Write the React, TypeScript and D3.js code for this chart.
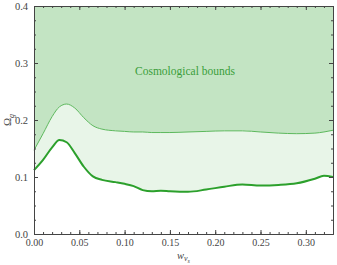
import React, { useEffect, useRef } from 'react';
import * as d3 from 'd3';

// w_{nu_s} sample points
const wValues = [0, 0.01, 0.02, 0.028, 0.036, 0.045, 0.055, 0.065, 0.075, 0.09, 0.1, 0.11, 0.12, 0.13, 0.14, 0.15, 0.17, 0.19, 0.21, 0.23, 0.25, 0.27, 0.29, 0.31, 0.32, 0.33];
// upper (cosmological bound) curve
const upperValues = [0.147, 0.176, 0.206, 0.223, 0.228, 0.221, 0.204, 0.19, 0.184, 0.181, 0.18, 0.179, 0.179, 0.178, 0.178, 0.178, 0.179, 0.18, 0.181, 0.181, 0.179, 0.177, 0.176, 0.177, 0.179, 0.182];
// lower curve
const lowerValues = [0.112, 0.13, 0.152, 0.165, 0.161, 0.142, 0.118, 0.101, 0.095, 0.091, 0.088, 0.084, 0.077, 0.075, 0.076, 0.075, 0.074, 0.078, 0.083, 0.087, 0.085, 0.086, 0.089, 0.097, 0.102, 0.1];
const xTicks = [0, 0.05, 0.1, 0.15, 0.2, 0.25, 0.3];
const yTicks = [0, 0.1, 0.2, 0.3, 0.4];

export default function App() {
  const ref = useRef<SVGSVGElement>(null);

  useEffect(() => {
    const width = 337, height = 265;
    const margin = { top: 6, right: 4, bottom: 31, left: 34 };
    const svg = d3.select(ref.current);
    svg.selectAll('*').remove();

    const x = d3.scaleLinear().domain([0, 0.33]).range([margin.left, width - margin.right]);
    const y = d3.scaleLinear().domain([0, 0.4]).range([height - margin.bottom, margin.top]);

    const data = wValues.map((w, i) => ({ w, up: upperValues[i], lo: lowerValues[i] }));
    const curve = d3.curveMonotoneX;

    // excluded region above upper curve
    svg.append('path')
      .datum(data)
      .attr('fill', '#c3e4c3')
      .attr('d', d3.area<any>().x(d => x(d.w)).y0(y(0.4)).y1(d => y(d.up)).curve(curve));

    // band between curves
    svg.append('path')
      .datum(data)
      .attr('fill', '#e8f5e8')
      .attr('d', d3.area<any>().x(d => x(d.w)).y0(d => y(d.lo)).y1(d => y(d.up)).curve(curve));

    svg.append('path')
      .datum(data)
      .attr('fill', 'none')
      .attr('stroke', '#5cb85c')
      .attr('stroke-width', 1)
      .attr('d', d3.line<any>().x(d => x(d.w)).y(d => y(d.up)).curve(curve));

    svg.append('path')
      .datum(data)
      .attr('fill', 'none')
      .attr('stroke', '#2ca02c')
      .attr('stroke-width', 2)
      .attr('d', d3.line<any>().x(d => x(d.w)).y(d => y(d.lo)).curve(curve));

    svg.append('text')
      .attr('x', 185)
      .attr('y', 75)
      .attr('text-anchor', 'middle')
      .attr('font-family', 'Liberation Serif, serif')
      .attr('font-size', 11.5)
      .attr('fill', '#3a9e3a')
      .text('Cosmological bounds');

    const axisColor = '#444';
    const font = 'Liberation Serif, serif';
    const xMinor = d3.range(0, 0.3301, 0.01);
    const yMinor = d3.range(0, 0.4001, 0.025);

    const bottom = svg.append('g').attr('transform', `translate(0,${y(0)})`)
      .call(d3.axisBottom(x).tickValues(xTicks).tickFormat(d3.format('.2f')).tickSizeInner(-4).tickSizeOuter(0).tickPadding(5));
    svg.append('g').attr('transform', `translate(0,${y(0)})`)
      .call(d3.axisBottom(x).tickValues(xMinor).tickFormat(() => '').tickSizeInner(-2).tickSizeOuter(0));
    svg.append('g').attr('transform', `translate(0,${y(0.4)})`)
      .call(d3.axisTop(x).tickValues(xTicks).tickFormat(() => '').tickSizeInner(-4).tickSizeOuter(0));
    svg.append('g').attr('transform', `translate(0,${y(0.4)})`)
      .call(d3.axisTop(x).tickValues(xMinor).tickFormat(() => '').tickSizeInner(-2).tickSizeOuter(0));

    svg.append('g').attr('transform', `translate(${x(0)},0)`)
      .call(d3.axisLeft(y).tickValues(yTicks).tickFormat(d3.format('.1f')).tickSizeInner(-4).tickSizeOuter(0).tickPadding(6));
    svg.append('g').attr('transform', `translate(${x(0)},0)`)
      .call(d3.axisLeft(y).tickValues(yMinor).tickFormat(() => '').tickSizeInner(-2).tickSizeOuter(0));
    svg.append('g').attr('transform', `translate(${x(0.33)},0)`)
      .call(d3.axisRight(y).tickValues(yTicks).tickFormat(() => '').tickSizeInner(-4).tickSizeOuter(0));
    svg.append('g').attr('transform', `translate(${x(0.33)},0)`)
      .call(d3.axisRight(y).tickValues(yMinor).tickFormat(() => '').tickSizeInner(-2).tickSizeOuter(0));

    svg.selectAll('.domain').attr('stroke', axisColor);
    svg.selectAll('.tick line').attr('stroke', axisColor);
    svg.selectAll('.tick text').attr('fill', '#444').attr('font-family', font).attr('font-size', 10.5);

    bottom.selectAll('.tick text').attr('font-size', 10).attr('dy', '0.71em');

    // axis labels
    const xl = svg.append('text')
      .attr('x', (x(0) + x(0.33)) / 2)
      .attr('y', 259)
      .attr('text-anchor', 'middle')
      .attr('font-family', font)
      .attr('font-style', 'italic')
      .attr('font-size', 10.5)
      .attr('fill', '#444');
    xl.append('tspan').text('w');
    xl.append('tspan').attr('font-size', 8).attr('dy', 2).text('ν');
    xl.append('tspan').attr('font-size', 6).attr('dy', 1.5).text('s');

    const yl = svg.append('text')
      .attr('transform', `translate(11,${y(0.2)}) rotate(-90)`)
      .attr('text-anchor', 'middle')
      .attr('font-family', font)
      .attr('font-size', 11)
      .attr('fill', '#444');
    yl.append('tspan').text('Ω');
    yl.append('tspan').attr('font-size', 8).attr('font-style', 'italic').attr('dy', 2.5).text('g');
  }, []);

  return <svg ref={ref} width={337} height={265} style={{ position: 'absolute', left: 0, top: 0 }} />;
}
